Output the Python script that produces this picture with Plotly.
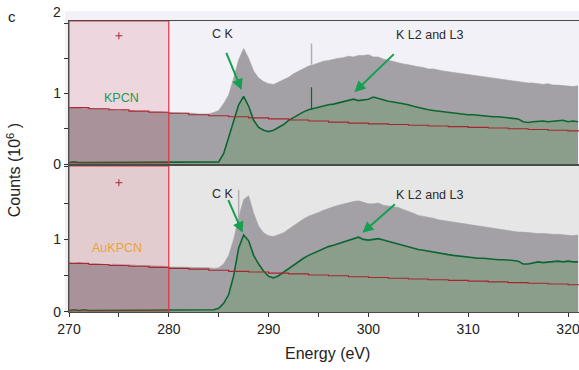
import plotly.graph_objects as go

# ---------------- data ----------------
energy = [270.0, 270.5, 271.0, 271.5, 272.0, 272.5, 273.0, 273.5, 274.0, 274.5,
          275.0, 275.5, 276.0, 276.5, 277.0, 277.5, 278.0, 278.5, 279.0, 279.5,
          280.0, 280.5, 281.0, 281.5, 282.0, 282.5, 283.0, 283.5, 284.0, 284.5,
          285.0, 285.5, 286.0, 286.5, 287.0, 287.5, 288.0, 288.5, 289.0, 289.5,
          290.0, 290.5, 291.0, 291.5, 292.0, 292.5, 293.0, 293.5, 294.0, 294.5,
          295.0, 295.5, 296.0, 296.5, 297.0, 297.5, 298.0, 298.5, 299.0, 299.5,
          300.0, 300.5, 301.0, 301.5, 302.0, 302.5, 303.0, 303.5, 304.0, 304.5,
          305.0, 305.5, 306.0, 306.5, 307.0, 307.5, 308.0, 308.5, 309.0, 309.5,
          310.0, 310.5, 311.0, 311.5, 312.0, 312.5, 313.0, 313.5, 314.0, 314.5,
          315.0, 315.5, 316.0, 316.5, 317.0, 317.5, 318.0, 318.5, 319.0, 319.5,
          320.0, 320.5, 321.0]

# KPCN (top panel)
kpcn_total = [0.80, 0.79, 0.80, 0.78, 0.79, 0.78, 0.78, 0.78, 0.77, 0.77,
              0.76, 0.77, 0.76, 0.76, 0.75, 0.75, 0.75, 0.74, 0.74, 0.74,
              0.73, 0.73, 0.73, 0.72, 0.72, 0.72, 0.71, 0.71, 0.71, 0.73,
              0.76, 0.86, 0.98, 1.22, 1.48, 1.64, 1.50, 1.32, 1.22, 1.17,
              1.14, 1.13, 1.16, 1.19, 1.23, 1.28, 1.32, 1.36, 1.39, 1.41,
              1.44, 1.46, 1.47, 1.49, 1.50, 1.51, 1.53, 1.52, 1.54, 1.54,
              1.55, 1.52, 1.52, 1.49, 1.47, 1.45, 1.43, 1.42, 1.41, 1.39,
              1.38, 1.37, 1.35, 1.35, 1.33, 1.32, 1.31, 1.30, 1.28, 1.28,
              1.27, 1.26, 1.24, 1.24, 1.23, 1.21, 1.21, 1.19, 1.19, 1.18,
              1.17, 1.16, 1.15, 1.15, 1.14, 1.13, 1.14, 1.12, 1.12, 1.11,
              1.11, 1.10, 1.11]
kpcn_ck = [0.02, 0.03, 0.02, 0.02, 0.03, 0.02, 0.02, 0.03, 0.02, 0.02,
           0.03, 0.02, 0.02, 0.03, 0.02, 0.03, 0.02, 0.02, 0.03, 0.02,
           0.02, 0.03, 0.02, 0.02, 0.03, 0.02, 0.02, 0.03, 0.02, 0.02,
           0.03, 0.15, 0.38, 0.62, 0.84, 0.96, 0.82, 0.62, 0.52, 0.48,
           0.46, 0.48, 0.52, 0.56, 0.62, 0.66, 0.71, 0.74, 0.77, 0.79,
           0.80, 0.82, 0.84, 0.85, 0.87, 0.89, 0.91, 0.92, 0.90, 0.91,
           0.92, 0.95, 0.93, 0.90, 0.89, 0.88, 0.87, 0.85, 0.84, 0.82,
           0.80, 0.79, 0.77, 0.76, 0.75, 0.74, 0.73, 0.72, 0.71, 0.71,
           0.70, 0.70, 0.69, 0.68, 0.68, 0.67, 0.67, 0.66, 0.66, 0.65,
           0.64, 0.60, 0.59, 0.60, 0.61, 0.61, 0.60, 0.61, 0.61, 0.62,
           0.60, 0.61, 0.60]

# AuKPCN (bottom panel)
aukpcn_total = [0.68, 0.67, 0.68, 0.67, 0.66, 0.67, 0.66, 0.66, 0.65, 0.66,
                0.65, 0.65, 0.65, 0.64, 0.64, 0.64, 0.64, 0.63, 0.63, 0.63,
                0.62, 0.62, 0.62, 0.62, 0.61, 0.61, 0.61, 0.61, 0.61, 0.60,
                0.61, 0.66, 0.78, 1.00, 1.30, 1.55, 1.60, 1.36, 1.18, 1.09,
                1.05, 1.04, 1.06, 1.09, 1.14, 1.19, 1.24, 1.28, 1.32, 1.34,
                1.37, 1.40, 1.43, 1.45, 1.47, 1.49, 1.51, 1.52, 1.53, 1.51,
                1.49, 1.49, 1.50, 1.47, 1.46, 1.44, 1.44, 1.41, 1.39, 1.36,
                1.33, 1.32, 1.30, 1.29, 1.27, 1.26, 1.25, 1.23, 1.22, 1.21,
                1.20, 1.19, 1.18, 1.17, 1.16, 1.15, 1.14, 1.13, 1.12, 1.11,
                1.10, 1.10, 1.09, 1.09, 1.08, 1.08, 1.07, 1.07, 1.07, 1.06,
                1.06, 1.05, 1.06]
aukpcn_ck = [0.02, 0.03, 0.02, 0.03, 0.02, 0.02, 0.03, 0.02, 0.03, 0.02,
             0.02, 0.03, 0.02, 0.03, 0.02, 0.02, 0.03, 0.02, 0.03, 0.02,
             0.03, 0.02, 0.02, 0.03, 0.02, 0.03, 0.02, 0.02, 0.03, 0.03,
             0.05, 0.12, 0.24, 0.50, 0.88, 1.06, 0.98, 0.78, 0.66, 0.56,
             0.49, 0.47, 0.50, 0.55, 0.60, 0.65, 0.70, 0.74, 0.78, 0.81,
             0.85, 0.88, 0.90, 0.92, 0.94, 0.96, 0.98, 1.00, 1.03, 1.00,
             0.99, 1.00, 1.01, 0.99, 0.97, 0.95, 0.93, 0.91, 0.89, 0.88,
             0.86, 0.85, 0.84, 0.82, 0.81, 0.80, 0.79, 0.78, 0.77, 0.76,
             0.76, 0.75, 0.74, 0.74, 0.73, 0.73, 0.72, 0.72, 0.72, 0.71,
             0.70, 0.66, 0.66, 0.68, 0.69, 0.68, 0.69, 0.69, 0.70, 0.69,
             0.70, 0.69, 0.69]

# background fits (pre-edge)
fit_energy = [270, 272, 274, 276, 278, 280, 282, 284, 286, 288, 290, 292, 294,
              296, 298, 300, 302, 304, 306, 308, 310, 312, 314, 316, 318, 320, 322]
kpcn_fit = [0.80, 0.785, 0.77, 0.75, 0.735, 0.72, 0.70, 0.685, 0.67, 0.655, 0.64,
            0.625, 0.61, 0.595, 0.58, 0.57, 0.56, 0.55, 0.54, 0.53, 0.52, 0.51,
            0.50, 0.49, 0.48, 0.47, 0.46]
aukpcn_fit = [0.67, 0.655, 0.64, 0.63, 0.615, 0.60, 0.59, 0.575, 0.56, 0.55, 0.535,
              0.525, 0.51, 0.50, 0.485, 0.475, 0.465, 0.455, 0.445, 0.435, 0.425,
              0.415, 0.405, 0.395, 0.385, 0.375, 0.37]

# single-channel spikes (energy, base, top)
kpcn_spike_e = [294.3]
kpcn_spike_total = [(1.41, 1.71)]
kpcn_spike_ck = [(0.77, 1.09)]
aukpcn_spike_e = [287.0]
aukpcn_spike_total = [(1.30, 1.68)]

# cursor markers
cursor_e = [275.0]
kpcn_cursor = [1.82]
aukpcn_cursor = [1.78]

x_ticks = [270, 275, 280, 285, 290, 295, 300, 305, 310, 315, 320]
x_ticktext = ["270", "", "280", "", "290", "", "300", "", "310", "", "320"]
y_ticks = [0, 0.5, 1, 1.5, 2]
y_ticktext = ["0", "", "1", "", ""]

# ---------------- styles ----------------
FONT = "Liberation Sans, Arial, Helvetica, sans-serif"
GRAY = "#a3a1a6"
GREEN_FILL = "#8b9e8c"
GREEN_LINE = "#0c6630"
RED_LINE = "#a5262e"
ARROW = "#14a04f"

fig = go.Figure()


def spike_xy(xs, spans):
    sx, sy = [], []
    for xv, (lo, hi) in zip(xs, spans):
        sx += [xv, xv, None]
        sy += [lo, hi, None]
    return sx, sy


def add_panel(xa, ya, total, ck, fit, sp_e, sp_tot, sp_ck, cursor):
    fig.add_trace(go.Scatter(x=energy, y=total, xaxis=xa, yaxis=ya, mode="lines",
                             line=dict(width=0.6, color=GRAY),
                             fill="tozeroy", fillcolor=GRAY, hoverinfo="skip"))
    sx, sy = spike_xy(sp_e, sp_tot)
    fig.add_trace(go.Scatter(x=sx, y=sy, xaxis=xa, yaxis=ya, mode="lines",
                             line=dict(width=1.5, color="#b2b0b5"), hoverinfo="skip"))
    fig.add_trace(go.Scatter(x=energy, y=ck, xaxis=xa, yaxis=ya, mode="lines",
                             line=dict(width=1.6, color=GREEN_LINE),
                             fill="tozeroy", fillcolor=GREEN_FILL, hoverinfo="skip"))
    if sp_ck:
        sx, sy = spike_xy(sp_e, sp_ck)
        fig.add_trace(go.Scatter(x=sx, y=sy, xaxis=xa, yaxis=ya, mode="lines",
                                 line=dict(width=1.2, color=GREEN_LINE), hoverinfo="skip"))
    fig.add_trace(go.Scatter(x=fit_energy, y=fit, xaxis=xa, yaxis=ya, mode="lines",
                             line=dict(width=1.1, color=RED_LINE, shape="hv"),
                             hoverinfo="skip"))
    fig.add_trace(go.Scatter(x=cursor_e, y=cursor, xaxis=xa, yaxis=ya, mode="markers",
                             marker=dict(symbol="cross-thin", size=5,
                                         line=dict(width=1, color="#a02838")),
                             hoverinfo="skip"))


add_panel("x2", "y2", kpcn_total, kpcn_ck, kpcn_fit,
          kpcn_spike_e, kpcn_spike_total, kpcn_spike_ck, kpcn_cursor)
add_panel("x", "y", aukpcn_total, aukpcn_ck, aukpcn_fit,
          aukpcn_spike_e, aukpcn_spike_total, None, aukpcn_cursor)

TOP_DOM = [0.5086, 1.0]
BOT_DOM = [0.0, 0.5017]

axis_common = dict(showgrid=False, zeroline=False, showline=True,
                   linecolor="#4a4a4a", linewidth=1.2)

fig.update_layout(
    width=579, height=370,
    margin=dict(l=69, r=0, t=21, b=58),
    paper_bgcolor="white", plot_bgcolor="rgba(0,0,0,0)",
    showlegend=False,
    font=dict(family=FONT, color="#222222", size=14),
    xaxis=dict(domain=[0, 1], anchor="y", range=[270, 321.1], mirror=True,
               tickmode="array", tickvals=x_ticks, ticktext=x_ticktext,
               ticks="outside", ticklen=4, tickcolor="#333", tickfont=dict(size=14),
               ticklabeloverflow="allow", **axis_common),
    xaxis2=dict(domain=[0, 1], anchor="y2", range=[270, 321.1], matches="x", mirror=True,
                showticklabels=False, ticks="", **axis_common),
    yaxis=dict(domain=BOT_DOM, anchor="x", range=[0, 2.01],
               tickmode="array", tickvals=y_ticks, ticktext=y_ticktext,
               ticks="outside", ticklen=4, tickcolor="#333", tickfont=dict(size=14),
               **axis_common),
    yaxis2=dict(domain=TOP_DOM, anchor="x2", range=[0, 2.03],
                tickmode="array", tickvals=y_ticks, ticktext=y_ticktext,
                ticks="outside", ticklen=4, tickcolor="#333", tickfont=dict(size=14),
                **axis_common),
)

shapes = [
    dict(type="rect", xref="paper", yref="paper", x0=-0.008, x1=1, y0=TOP_DOM[0], y1=1.034,
         fillcolor="#f2f1f7", line=dict(width=0), layer="below"),
    dict(type="rect", xref="paper", yref="paper", x0=-0.008, x1=0, y0=0, y1=TOP_DOM[0],
         fillcolor="#f0eff6", line=dict(width=0), layer="below"),
    dict(type="rect", xref="paper", yref="paper", x0=0, x1=1, y0=0, y1=BOT_DOM[1],
         fillcolor="#e6e6e6", line=dict(width=0), layer="below"),
    dict(type="rect", xref="x2", yref="y2", x0=270, x1=280, y0=0, y1=2.03,
         fillcolor="rgba(205,60,80,0.15)", line=dict(width=1.2, color="#e0343e"),
         layer="above"),
    dict(type="rect", xref="x", yref="y", x0=270, x1=280, y0=0, y1=2.01,
         fillcolor="rgba(205,60,80,0.15)", line=dict(width=1.2, color="#e0343e"),
         layer="above"),
]
fig.update_layout(shapes=shapes)

ann = []
ann.append(dict(text="c", xref="paper", yref="paper", x=-0.112, y=1.014,
                showarrow=False, font=dict(size=15, color="#222"),
                xanchor="center", yanchor="middle"))
ann.append(dict(text="2", xref="paper", yref="y2", x=0, y=2.03, xshift=-12, yshift=9,
                showarrow=False, font=dict(size=14, color="#222"),
                xanchor="center", yanchor="middle"))
ann.append(dict(text="Counts (10<sup>6</sup> )", xref="paper", yref="paper",
                x=-0.108, y=0.487, textangle=-90, showarrow=False,
                font=dict(size=16, color="#222"), xanchor="center", yanchor="middle"))
ann.append(dict(text="Energy (eV)", xref="paper", yref="paper", x=0.506, y=-0.144,
                showarrow=False, font=dict(size=16, color="#222"),
                xanchor="center", yanchor="middle"))
for yp in (0.955, 0.404):
    ann.append(dict(text="C K", xref="x", yref="paper", x=285.4, y=yp, showarrow=False,
                    font=dict(size=12.5, color="#2a2a2a"), xanchor="center",
                    yanchor="middle"))
    ann.append(dict(text="K L2 and L3", xref="x", yref="paper", x=306.15, y=yp - 0.003,
                    showarrow=False, font=dict(size=12.5, color="#2a2a2a"),
                    xanchor="center", yanchor="middle"))
ann.append(dict(text="KPCN", xref="x", yref="paper", x=275.3, y=0.737, showarrow=False,
                font=dict(size=12.5, color="#1c9c50"), xanchor="center", yanchor="middle"))
ann.append(dict(text="AuKPCN", xref="x", yref="paper", x=274.8, y=0.22, showarrow=False,
                font=dict(size=12.5, color="#eaa33a"), xanchor="center", yanchor="middle"))

arrows = [
    (287.3, 1.05, 285.7, 1.60, "x2", "y2"),
    (298.6, 1.02, 302.7, 1.58, "x2", "y2"),
    (287.4, 1.09, 285.9, 1.56, "x", "y"),
    (299.4, 1.09, 302.8, 1.50, "x", "y"),
]
for hx, hy, tx, ty, xr, yr in arrows:
    ann.append(dict(text="", x=hx, y=hy, ax=tx, ay=ty, xref=xr, yref=yr,
                    axref=xr, ayref=yr, showarrow=True, arrowhead=2, arrowsize=1.1,
                    arrowwidth=2, arrowcolor=ARROW, standoff=0))
fig.update_layout(annotations=ann)

fig.write_html("out.html")
